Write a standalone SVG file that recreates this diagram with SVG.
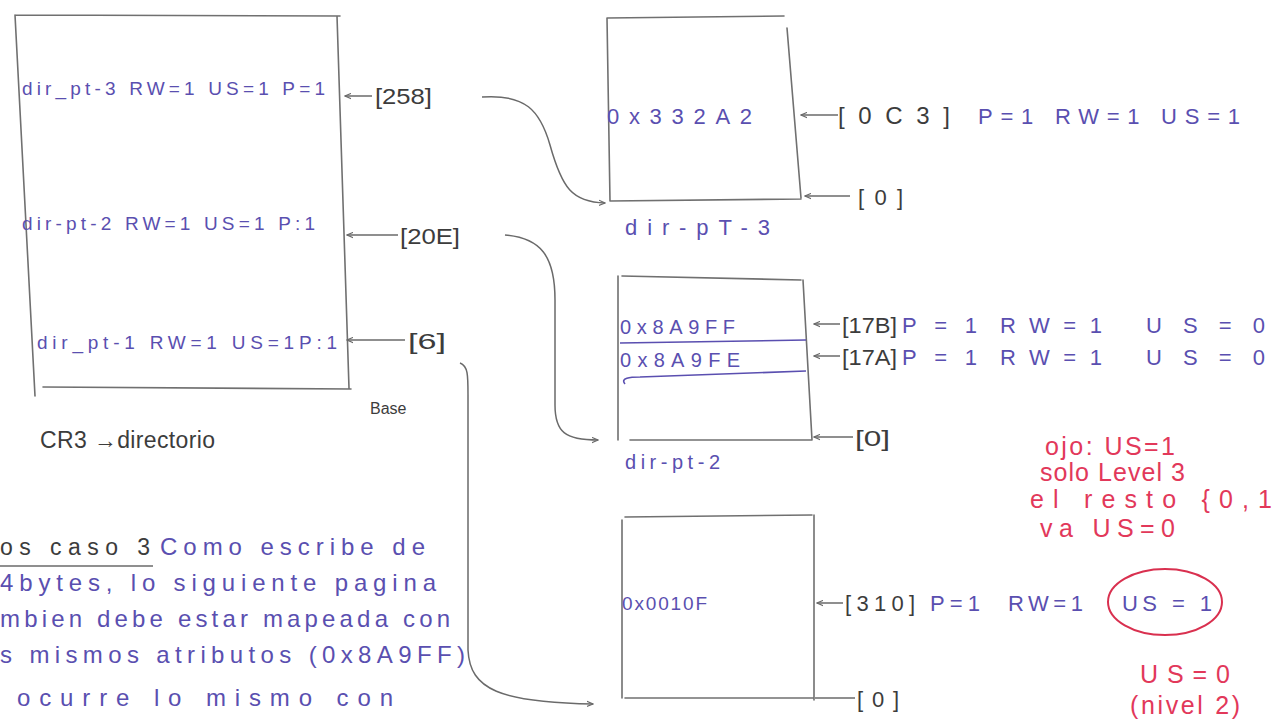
<svg xmlns="http://www.w3.org/2000/svg" width="1277" height="719" viewBox="0 0 1277 719">
<style>
text{font-family:"Liberation Sans","DejaVu Sans",sans-serif}
.blue{fill:#5a4fb0;font-size:19px}
.bl{fill:#5a4fb0;font-size:22px}
.nt{fill:#5a4fb0;font-size:24px}
.ink{fill:#3c3c3c;font-size:22px}
.red{fill:#e2385a;font-size:25px}
.box{fill:none;stroke:#707070;stroke-width:1.6;stroke-linecap:round}
.con{fill:none;stroke:#6a6a6a;stroke-width:1.5}
.blu{fill:none;stroke:#5a4fb0;stroke-width:1.6}
</style>
<defs>
<marker id="ah" viewBox="0 0 8 8" refX="7" refY="4" markerWidth="7" markerHeight="7" orient="auto" markerUnits="userSpaceOnUse">
<path d="M0,1 L7,4 L0,7" fill="none" stroke="#6a6a6a" stroke-width="1.3"/>
</marker>
</defs>
<rect width="1277" height="719" fill="#ffffff"/>

<g id="directorio">
<path class="box" d="M15,15 L340,16 M337,16 L349,388 M15,15 L35,396 M43,387 L351,389"/>
<text class="blue" x="22" y="95" textLength="303" lengthAdjust="spacing">dir_pt-3 RW=1 US=1 P=1</text>
<text class="blue" x="22" y="230" textLength="293" lengthAdjust="spacing">dir-pt-2 RW=1 US=1 P:1</text>
<text class="blue" x="37" y="349" textLength="300" lengthAdjust="spacing">dir_pt-1 RW=1 US=1P:1</text>
<text class="ink" x="370" y="414" style="font-size:16px">Base</text>
<text class="ink" x="375" y="104" textLength="57" lengthAdjust="spacingAndGlyphs">[258]</text>
<text class="ink" x="400" y="244" textLength="60" lengthAdjust="spacingAndGlyphs">[20E]</text>
<text class="ink" x="408" y="349" textLength="38" lengthAdjust="spacingAndGlyphs">[6]</text>
</g>

<g id="pt3">
<path class="box" d="M607,18 L784,16 M787,28 L801,198 M607,18 L610,201 M610,201 L801,199"/>
<text class="bl" x="607" y="124" textLength="145" lengthAdjust="spacing">0x332A2</text>
<text class="bl" x="625" y="235" textLength="145" lengthAdjust="spacing">dir-pT-3</text>
<text class="ink" x="838" y="124" style="font-size:24px" textLength="112" lengthAdjust="spacing">[0C3]</text>
<text class="bl" x="978" y="124" textLength="262" lengthAdjust="spacing">P=1 RW=1 US=1</text>
<text class="ink" x="858" y="205" textLength="45" lengthAdjust="spacing">[0]</text>
</g>

<g id="pt2">
<path class="box" d="M618,276 L618,440 M622,276 L801,280 M803,280 L812,440 M630,440 L812,440"/>
<path class="blu" d="M620,343 L806,340 M625,384 C620,378 630,377 640,377 L806,371"/>
<text class="bl" x="620" y="334" style="font-size:20px" textLength="115" lengthAdjust="spacing">0x8A9FF</text>
<text class="bl" x="620" y="367" style="font-size:20px" textLength="120" lengthAdjust="spacing">0x8A9FE</text>
<text class="bl" x="625" y="469" style="font-size:20px" textLength="95" lengthAdjust="spacing">dir-pt-2</text>
<text class="ink" x="842" y="333" textLength="55" lengthAdjust="spacingAndGlyphs">[17B]</text>
<text class="bl" x="902" y="333" textLength="75" lengthAdjust="spacing">P=1</text>
<text class="bl" x="1000" y="333" textLength="102" lengthAdjust="spacing">RW=1</text>
<text class="bl" x="1146" y="333" textLength="119" lengthAdjust="spacing">US=0</text>
<text class="ink" x="842" y="365" textLength="55" lengthAdjust="spacingAndGlyphs">[17A]</text>
<text class="bl" x="902" y="365" textLength="75" lengthAdjust="spacing">P=1</text>
<text class="bl" x="1000" y="365" textLength="102" lengthAdjust="spacing">RW=1</text>
<text class="bl" x="1146" y="365" textLength="119" lengthAdjust="spacing">US=0</text>
<text class="ink" x="855" y="446" textLength="35" lengthAdjust="spacingAndGlyphs">[0]</text>
</g>

<g id="pt1">
<path class="box" d="M622,520 L622,698 M625,517 L812,515 M814,515 L814,700 M625,698 L814,698"/>
<text class="bl" x="622" y="610" style="font-size:19px" textLength="85" lengthAdjust="spacing">0x0010F</text>
<text class="ink" x="845" y="611" textLength="70" lengthAdjust="spacing">[310]</text>
<text class="bl" x="930" y="611" textLength="50" lengthAdjust="spacing">P=1</text>
<text class="bl" x="1008" y="611" textLength="75" lengthAdjust="spacing">RW=1</text>
<text class="bl" x="1122" y="611" textLength="90" lengthAdjust="spacing">US = 1</text>
<ellipse cx="1165" cy="602" rx="57" ry="33" fill="none" stroke="#d9304f" stroke-width="2"/>
<text class="ink" x="857" y="707" textLength="42" lengthAdjust="spacing">[0]</text>
</g>

<g id="connectors">
<path class="con" marker-end="url(#ah)" d="M372,96 L345,96"/>
<path class="con" marker-end="url(#ah)" d="M398,235 L347,235"/>
<path class="con" marker-end="url(#ah)" d="M405,340 L347,340"/>
<path class="con" marker-end="url(#ah)" d="M482,97 C525,94 540,110 550,145 C562,188 572,202 605,203"/>
<path class="con" marker-end="url(#ah)" d="M505,235 C540,238 555,255 555,300 L555,405 C555,432 565,440 598,440"/>
<path class="con" marker-end="url(#ah)" d="M460,363 C468,366 468,375 468,395 L468,650 C470,690 500,702 593,704"/>
<path class="con" marker-end="url(#ah)" d="M838,115 L801,115"/>
<path class="con" marker-end="url(#ah)" d="M850,196 L805,196"/>
<path class="con" marker-end="url(#ah)" d="M840,324 L814,324"/>
<path class="con" marker-end="url(#ah)" d="M840,356 L814,356"/>
<path class="con" marker-end="url(#ah)" d="M853,437 L814,437"/>
<path class="con" marker-end="url(#ah)" d="M843,603 L817,603"/>
<path class="con" d="M855,698 L815,698"/>
</g>

<g id="notas">
<text class="ink" x="40" y="448" style="font-size:23px" textLength="175" lengthAdjust="spacing">CR3 →directorio</text>
<text class="ink" x="0" y="555" style="font-size:23px" textLength="150" lengthAdjust="spacing">os caso 3</text>
<path class="con" d="M0,566 L153,566"/>
<text class="nt" x="160" y="555" textLength="265" lengthAdjust="spacing">Como escribe de</text>
<text class="nt" x="0" y="591" textLength="436" lengthAdjust="spacing">4bytes, lo siguiente pagina</text>
<text class="nt" x="0" y="627" textLength="450" lengthAdjust="spacing">mbien debe estar mapeada con</text>
<text class="nt" x="0" y="663" textLength="465" lengthAdjust="spacing">s mismos atributos (0x8A9FF)</text>
<text class="nt" x="17" y="706" textLength="376" lengthAdjust="spacing">ocurre lo mismo con</text>
<text class="red" x="1045" y="455" textLength="130" lengthAdjust="spacing">ojo: US=1</text>
<text class="red" x="1040" y="481" textLength="145" lengthAdjust="spacing">solo Level 3</text>
<text class="red" x="1030" y="508" textLength="242" lengthAdjust="spacing">el resto {0,1</text>
<text class="red" x="1040" y="537" textLength="135" lengthAdjust="spacing">va US=0</text>
<text class="red" x="1140" y="683" textLength="90" lengthAdjust="spacing">US=0</text>
<text class="red" x="1130" y="714" textLength="110" lengthAdjust="spacing">(nivel 2)</text>
</g>
</svg>
